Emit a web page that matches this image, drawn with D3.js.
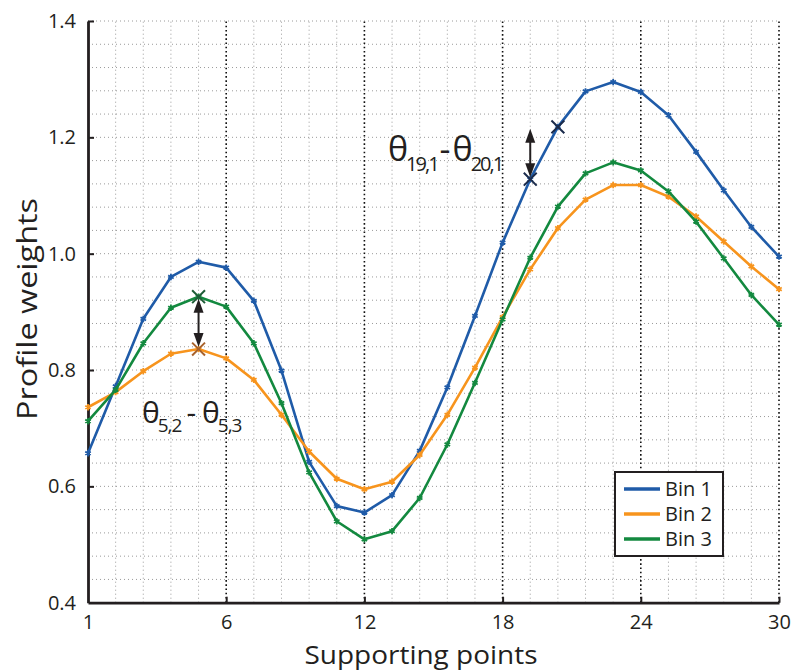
<!DOCTYPE html>
<meta charset="UTF-8">
<style>
  body { margin: 0; background: #fff; }
  svg { font-family: "Open Sans", "Noto Sans", sans-serif; }
</style>
<svg width="792" height="671"></svg>
<script src="https://cdn.jsdelivr.net/npm/d3@7"></script>
<script>

// supporting point index (0..25) and the labels shown on the x axis
var xTickIdx = [0, 5, 10, 15, 20, 25],
    xTickLabels = ["1", "6", "12", "18", "24", "30"],
    yTicks = [0.4, 0.6, 0.8, 1.0, 1.2, 1.4];

var bin1 = [0.657, 0.772, 0.888, 0.960, 0.986, 0.976, 0.919, 0.799, 0.642, 0.566,
            0.555, 0.585, 0.661, 0.770, 0.893, 1.019, 1.128, 1.218, 1.279, 1.295,
            1.278, 1.238, 1.175, 1.109, 1.046, 0.995];
var bin2 = [0.736, 0.762, 0.798, 0.828, 0.836, 0.820, 0.783, 0.723, 0.660, 0.613,
            0.595, 0.608, 0.654, 0.723, 0.804, 0.891, 0.973, 1.044, 1.093, 1.118,
            1.118, 1.098, 1.064, 1.021, 0.978, 0.939];
var bin3 = [0.712, 0.766, 0.846, 0.907, 0.926, 0.909, 0.846, 0.743, 0.624, 0.540,
            0.509, 0.523, 0.580, 0.672, 0.778, 0.887, 0.993, 1.081, 1.138, 1.157,
            1.143, 1.107, 1.055, 0.992, 0.929, 0.878];

var series = [
  {name: "Bin 1", values: bin1, color: "#1f5ba8"},
  {name: "Bin 2", values: bin2, color: "#f7941d"},
  {name: "Bin 3", values: bin3, color: "#13893f"}
];

// highlighted differences: [series, index] pairs
var diffs = [
  {a: [2, 4], b: [1, 4], arrowAt: 4, label: ["5,2", "5,3"], size: 30, sub: 19, tx: 142, ty: 423, gap: [5, 6], ls: -1},
  {a: [0, 17], b: [0, 16], arrowAt: 16, label: ["19,1", "20,1"], size: 34, sub: 20, tx: 388, ty: 161, gap: [2, 2], ls: -2}
];
var crossColors = ["#1b2b4b", "#a8622c", "#1d5c36"];

var svg = d3.select("svg");

var x = d3.scaleLinear().domain([0, 25]).range([88, 779]);
var y = d3.scaleLinear().domain([0.4, 1.4]).range([602.7, 21]);

// grid
var grid = svg.append("g");
grid.selectAll(".hg").data(d3.range(0.44, 1.4001, 0.04)).enter().append("line")
    .attr("x1", x(0)).attr("x2", x(25))
    .attr("y1", d => y(d)).attr("y2", d => y(d))
    .attr("stroke", "#9a9a9a").attr("stroke-width", 1).attr("stroke-dasharray", "1,3");
grid.selectAll(".vg").data(d3.range(1, 26).filter(i => i % 5 != 0)).enter().append("line")
    .attr("x1", d => x(d)).attr("x2", d => x(d))
    .attr("y1", y(0.4)).attr("y2", y(1.4))
    .attr("stroke", "#9a9a9a").attr("stroke-width", 1).attr("stroke-dasharray", "1,3");
grid.selectAll(".vm").data(xTickIdx.slice(1)).enter().append("line")
    .attr("x1", d => x(d)).attr("x2", d => x(d))
    .attr("y1", y(0.4)).attr("y2", y(1.4))
    .attr("stroke", "#111").attr("stroke-width", 1.6).attr("stroke-dasharray", "1.6,2.6");

// axes
var xAxis = d3.axisBottom(x).tickValues(xTickIdx)
    .tickFormat((d, i) => xTickLabels[i]).tickSizeInner(-6).tickSizeOuter(0).tickPadding(12);
var yAxis = d3.axisLeft(y).tickValues(yTicks)
    .tickFormat(d3.format(".1f")).tickSizeInner(-6).tickSizeOuter(0).tickPadding(12);

var gx = svg.append("g").attr("transform", "translate(0," + y(0.4) + ")").call(xAxis);
var gy = svg.append("g").attr("transform", "translate(" + x(0) + ",0)").call(yAxis);
[gx, gy].forEach(g => {
  g.attr("font-size", null).attr("font-family", null);
  g.select(".domain").attr("stroke", "#231f20").attr("stroke-width", 2.8);
  g.selectAll(".tick line").attr("stroke", "#231f20").attr("stroke-width", 2);
  g.selectAll(".tick text").attr("fill", "#231f20").style("font-size", "20px");
});
gx.selectAll(".tick").filter(d => d == 0).select("line").remove();
gy.selectAll(".tick").filter(d => d == 0.4).select("line").remove();

// lines
var line = d3.line().x((d, i) => x(i)).y(d => y(d));
var star = d3.symbol().type(d3.symbolAsterisk).size(28);

series.forEach(s => {
  var g = svg.append("g");
  g.append("path").datum(s.values).attr("d", line)
    .attr("fill", "none").attr("stroke", s.color).attr("stroke-width", 2.6)
    .attr("stroke-linejoin", "round");
  g.selectAll("path.m").data(s.values).enter().append("path").attr("class", "m")
    .attr("d", star)
    .attr("transform", (d, i) => "translate(" + x(i) + "," + y(d) + ")")
    .attr("fill", "none").attr("stroke", s.color).attr("stroke-width", 1.8);
});

// annotation crosses, arrows and labels
var cross = d3.symbol().type(d3.symbolTimes).size(110);
var val = p => series[p[0]].values[p[1]];

diffs.forEach(df => {
  [df.a, df.b].forEach(p => {
    svg.append("path").attr("d", cross)
      .attr("transform", "translate(" + x(p[1]) + "," + y(val(p)) + ")")
      .attr("fill", "none").attr("stroke", crossColors[p[0]]).attr("stroke-width", 2);
  });
  var ax = x(df.arrowAt), y1 = y(val(df.a)) + 2, y2 = y(val(df.b)) - 2;
  svg.append("line").attr("x1", ax).attr("x2", ax).attr("y1", y1 + 8).attr("y2", y2 - 8)
    .attr("stroke", "#231f20").attr("stroke-width", 2);
  svg.append("path")
    .attr("d", "M" + ax + "," + y1 + "L" + (ax - 5) + "," + (y1 + 14) + "L" + (ax + 5) + "," + (y1 + 14) + "Z")
    .attr("fill", "#231f20");
  svg.append("path")
    .attr("d", "M" + ax + "," + y2 + "L" + (ax - 5) + "," + (y2 - 14) + "L" + (ax + 5) + "," + (y2 - 14) + "Z")
    .attr("fill", "#231f20");

  var t = svg.append("text").attr("x", df.tx).attr("y", df.ty)
    .attr("fill", "#231f20").style("font-size", df.size + "px");
  var drop = df.size * 0.3;
  t.append("tspan").text("θ");
  t.append("tspan").attr("dx", -2).attr("dy", drop).style("font-size", df.sub + "px")
    .style("letter-spacing", df.ls + "px").text(df.label[0]);
  t.append("tspan").attr("dx", df.gap[0]).attr("dy", -drop).text("-");
  t.append("tspan").attr("dx", df.gap[1]).text("θ");
  t.append("tspan").attr("dx", -2).attr("dy", drop).style("font-size", df.sub + "px")
    .style("letter-spacing", df.ls + "px").text(df.label[1]);
});

// axis titles
svg.append("text").attr("x", 421).attr("y", 664).attr("text-anchor", "middle")
  .attr("textLength", 233).attr("lengthAdjust", "spacingAndGlyphs")
  .attr("fill", "#231f20").style("font-size", "26px").text("Supporting points");
svg.append("text").attr("transform", "translate(37,309) rotate(-90)")
  .attr("text-anchor", "middle").attr("textLength", 222).attr("lengthAdjust", "spacingAndGlyphs")
  .attr("fill", "#231f20").style("font-size", "28px")
  .text("Profile weights");

// legend
var lg = svg.append("g").attr("transform", "translate(615,472)");
lg.append("rect").attr("width", 108).attr("height", 84)
  .attr("fill", "#fff").attr("stroke", "#231f20").attr("stroke-width", 2);
series.forEach((s, i) => {
  var yy = 17 + i * 25;
  lg.append("line").attr("x1", 9).attr("x2", 45).attr("y1", yy).attr("y2", yy)
    .attr("stroke", s.color).attr("stroke-width", 3.5);
  lg.append("text").attr("x", 50).attr("y", yy + 7).attr("fill", "#231f20")
    .style("font-size", "20px").text(s.name);
});
</script>
